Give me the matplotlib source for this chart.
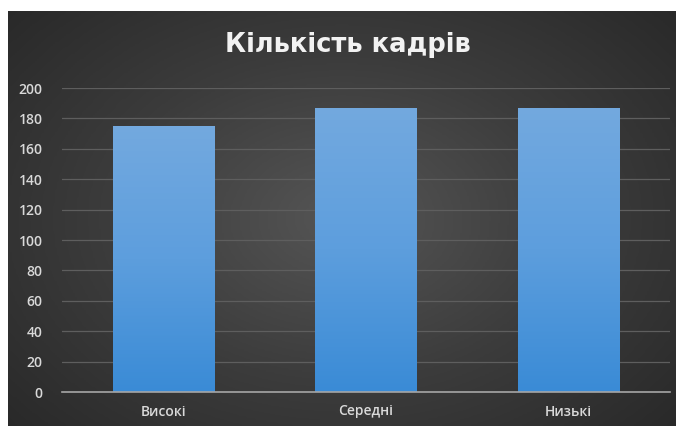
import numpy as np
import matplotlib
matplotlib.use("Agg")
import matplotlib.pyplot as plt
from matplotlib.colors import LinearSegmentedColormap

# дані з графіка
categories = ["Високі", "Середні", "Низькі"]
values = [175, 187, 187]
y_ticks = [0, 20, 40, 60, 80, 100, 120, 140, 160, 180, 200]
title = "Кількість кадрів"

plt.rcParams['font.family'] = ['Open Sans', 'DejaVu Sans']

fig = plt.figure(figsize=(6.76, 4.26), dpi=100)
fig.patch.set_facecolor("white")

# темний фон з радіальним градієнтом
bg_ax = fig.add_axes([8 / 676, 0, 1 - 8 / 676, 1 - 11 / 426])
bg_ax.set_axis_off()
yy, xx = np.mgrid[-1:1:200j, -1:1:300j]
r = np.sqrt((xx * 0.9) ** 2 + (yy * 0.8) ** 2)
bg_cmap = LinearSegmentedColormap.from_list("bg", ["#555555", "#3c3c3c", "#282828"])
bg_ax.imshow(r, cmap=bg_cmap, vmin=0, vmax=1.25, aspect="auto", extent=[0, 1, 0, 1])
bg_ax.set_xlim(0, 1)
bg_ax.set_ylim(0, 1)

# основна область графіка
left, right = 62 / 676, 670 / 676
bottom, top = 1 - 392 / 426, 1 - 88 / 426
ax = fig.add_axes([left, bottom, right - left, top - bottom])
ax.patch.set_alpha(0)

x = np.arange(len(categories))
bars = ax.bar(x, values, width=0.5, color="#5b9bd5", zorder=3)

# градієнт на стовпчиках
bar_cmap = LinearSegmentedColormap.from_list("bar", ["#3a8bd6", "#5d9edd", "#73a9df"])
grad = np.linspace(0, 1, 256).reshape(-1, 1)
for b in bars:
    x0, w, h = b.get_x(), b.get_width(), b.get_height()
    im = ax.imshow(grad, cmap=bar_cmap, aspect="auto", origin="lower",
                   extent=[x0, x0 + w, 0, h], zorder=4)
    im.set_clip_path(b)

ax.set_xlim(-0.5, len(categories) - 0.5)
ax.set_ylim(0, 200)
ax.set_yticks(y_ticks)
ax.set_xticks(x)
ax.set_xticklabels(categories)
ax.grid(axis="y", color="#5e5e5e", linewidth=0.9, zorder=1)
ax.axhline(0, color="#a6a6a6", linewidth=1.2, zorder=5, clip_on=False)
for s in ax.spines.values():
    s.set_visible(False)
ax.tick_params(axis="both", length=0, colors="#d9d9d9", labelsize=10)
ax.tick_params(axis="x", pad=9)
ax.tick_params(axis="y", pad=14)
for lbl in ax.get_xticklabels() + ax.get_yticklabels():
    lbl.set_fontweight("semibold")

fig.text(348 / 676, 1 - 45 / 426, title, color="#f2f2f2", fontsize=18.5,
         fontweight="bold", ha="center", va="center",
         family=["DejaVu Sans"])

fig.savefig("out.png", dpi=100)
